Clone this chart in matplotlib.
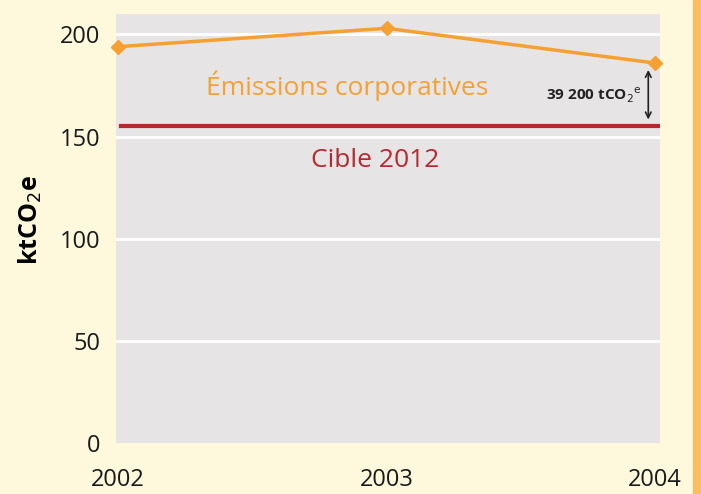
import matplotlib.pyplot as plt
from matplotlib.patches import Rectangle

annees = [2002, 2003, 2004]
emissions = [194, 203, 186]
cible = 155
yticks = [0, 50, 100, 150, 200]

fond = "#fef8dc"
orange = "#f5a031"
rouge = "#b8282e"
gris = "#e6e4e4"

plt.rcParams['font.family'] = ['Open Sans', 'DejaVu Sans']

fig = plt.figure(figsize=(7.01, 4.94), dpi=100, facecolor=fond)
ax = fig.add_axes([116/701, 1 - 443/494, 544/701, 429/494])
ax.set_facecolor(gris)

ax.set_xlim(2002 - 2/268.5, 2004 + 5/268.5)
ax.set_ylim(0, 210)

for v in yticks[1:]:
    ax.axhline(v, color="white", lw=2, zorder=1)

ax.axhline(cible, xmin=0.01, xmax=1, color=rouge, lw=3, zorder=2)
ax.plot(annees, emissions, color=orange, lw=2.5, marker="D", ms=7,
        clip_on=False, zorder=3)

ax.text(2002.855, 175, "Émissions corporatives", color=orange, fontsize=19,
        ha="center", va="center")
ax.text(2002.957, 138.5, "Cible 2012", color=rouge, fontsize=19,
        ha="center", va="center")
ax.text(2003.948, 170, "39 200 tCO$_2$$^{\\mathrm{e}}$", fontsize=11,
        fontweight="bold", ha="right", va="center", color="#222222")
ax.annotate("", xy=(2003.975, emissions[2] - 2), xytext=(2003.975, cible + 2),
            arrowprops=dict(arrowstyle="<->", color="#222222", lw=1.2))

for s in ax.spines.values():
    s.set_visible(False)
ax.tick_params(length=0)
ax.set_yticks(yticks)
ax.set_yticklabels([str(v) for v in yticks], fontsize=17, color="#1a1a1a")
ax.tick_params(axis="y", pad=11)
ax.set_xticks(annees)
ax.set_xticklabels([str(a) for a in annees], fontsize=17, color="#1a1a1a")
ax.tick_params(axis="x", pad=18)

ax.set_ylabel("ktCO$_2$e", fontsize=18, fontweight="bold")
ax.yaxis.set_label_coords(-0.132, 0.52)

fig.patches.append(Rectangle((693/701, 0), 8/701, 1, transform=fig.transFigure,
                             color="#fbbd62", zorder=0))

fig.savefig("out.png", dpi=100, facecolor=fond)
